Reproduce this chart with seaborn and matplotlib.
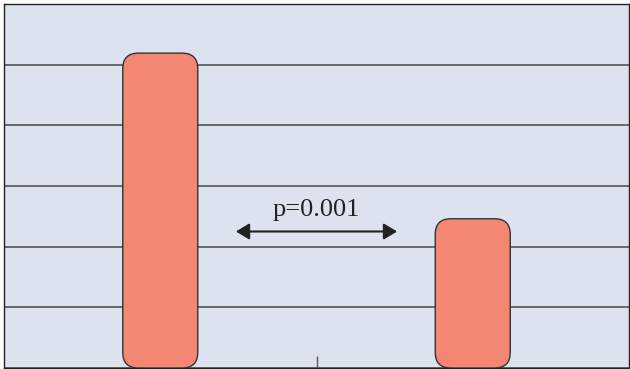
import matplotlib
matplotlib.use('Agg')
import matplotlib.pyplot as plt
import seaborn as sns
import pandas as pd
from matplotlib.patches import FancyBboxPatch

# data
groups = ['A', 'B']
values = [5.19, 2.46]
p_label = 'p=0.001'

df = pd.DataFrame({'group': groups, 'value': values})

sns.set_style('white')
plt.rcParams['font.family'] = ['Liberation Serif', 'DejaVu Serif']

fig = plt.figure(figsize=(6.3, 3.69), dpi=100)
ax = fig.add_axes([4 / 630, 1 / 369, 625 / 630, 364 / 369])
ax.set_facecolor('#dce3ee')

sns.barplot(data=df, x='group', y='value', color='#f48674', width=0.24, ax=ax)
ax.set_xlim(-0.5, 1.5)
ax.set_ylim(0, 6)

# swap plain bars for rounded ones
px_x = 625 / 2.0
px_y = 364 / 6.0
for bar in list(ax.patches):
    x, w, h = bar.get_x(), bar.get_width(), bar.get_height()
    bar.remove()
    rb = FancyBboxPatch((x, 0), w, h, boxstyle='round,pad=0,rounding_size=0.05',
                        mutation_aspect=px_x / px_y, facecolor='#f48674',
                        edgecolor='#333333', linewidth=1.0, zorder=3)
    ax.add_patch(rb)

ax.set_yticks(range(7))
ax.set_yticklabels([])
ax.yaxis.grid(True, color='#555555', linewidth=1.2)
ax.set_axisbelow(True)
ax.tick_params(axis='y', length=0)
ax.set_xticks([0.5])
ax.set_xticklabels([''])
ax.tick_params(axis='x', bottom=True, direction='in', length=8.5, width=1, color='#555555')
ax.set_xlabel('')
ax.set_ylabel('')
for s in ax.spines.values():
    s.set_color('#222222')
    s.set_linewidth(1.0)

ax.annotate('', xy=(0.242, 2.25), xytext=(0.758, 2.25),
            arrowprops=dict(arrowstyle='<|-|>,head_length=0.45,head_width=0.27',
                            color='#222222', lw=1.5,
                            mutation_scale=18, shrinkA=0, shrinkB=0))
ax.text(0.5, 2.42, p_label, ha='center', va='bottom', fontsize=19, color='#222222')

fig.savefig('out.png', dpi=100)
